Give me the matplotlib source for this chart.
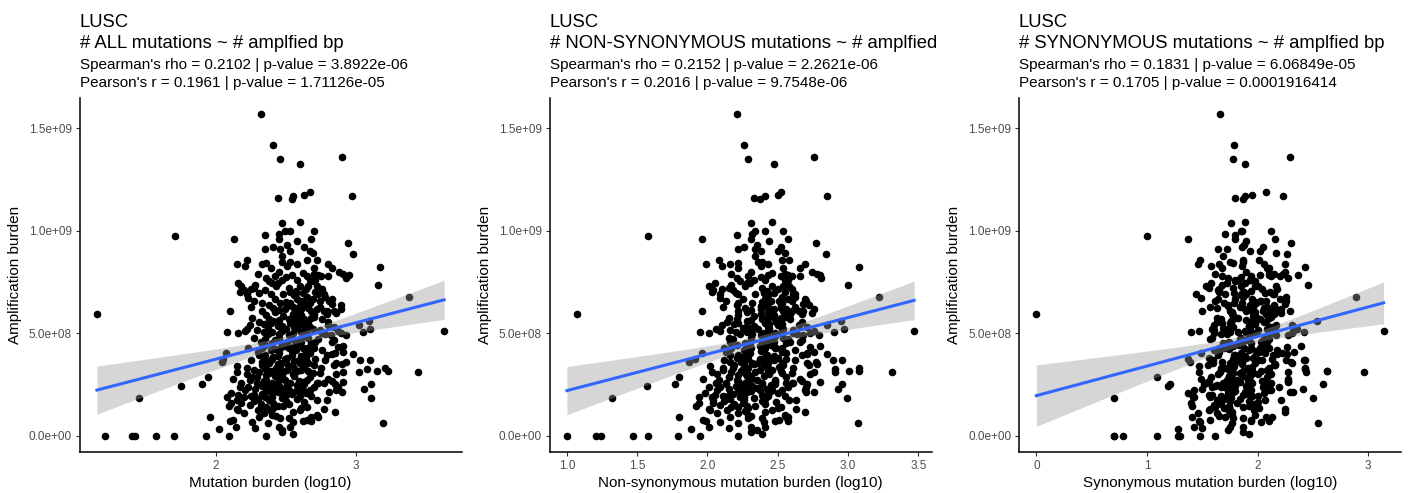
import numpy as np
import matplotlib
matplotlib.use("Agg")
import matplotlib.pyplot as plt

plt.rcParams['font.family'] = ['Liberation Sans', 'DejaVu Sans']

# amplified bp per LUSC sample, in units of 1e8 bp
amp_1e8 = [
    15.7, 14.2, 13.5, 13.25, 13.6, 11.6, 11.55, 11.7, 11.75, 11.9,
    11.7, 10.4, 10.45, 9.74, 9.6, 9.82, 9.85, 10.0, 10.0, 10.0,
    9.6, 9.6, 9.4, 8.85, 9.1, 9.2, 9.1, 9.3, 9.5, 9.2,
    9.0, 8.9, 8.8, 9.0, 8.26, 8.4, 8.6, 8.3, 8.4, 8.45,
    8.3, 8.4, 8.6, 8.2, 8.6, 8.4, 8.2, 8.0, 7.9, 7.85,
    7.7, 7.35, 8.5, 8.5, 8.2, 8.0, 7.8, 7.7, 7.45, 7.3,
    7.6, 7.85, 7.6, 7.3, 7.8, 7.9, 7.6, 7.85, 7.8, 7.45,
    7.3, 7.0, 6.9, 7.15, 7.2, 7.1, 6.75, 6.5, 6.9, 6.9,
    7.0, 6.6, 6.8, 7.0, 6.6, 6.6, 6.4, 6.7, 6.2, 6.45,
    6.0, 6.77, 6.08, 5.94, 5.4, 5.6, 5.2, 5.05, 5.1, 5.0,
    4.9, 4.4, 4.7, 4.35, 4.0, 3.55, 3.5, 3.6, 3.7, 3.1,
    3.25, 3.15, 3.3, 3.15, 3.1, 2.7, 2.55, 2.65, 2.4, 2.15,
    2.3, 2.55, 1.85, 1.17, 0.62, 5.1, 4.6, 4.05, 5.3, 4.1,
    4.0, 3.7, 3.06, 2.57, 2.57, 2.24, 3.0, 3.1, 3.46, 1.75,
    1.75, 2.16, 2.24, 3.7, 5.06, 5.0, 5.1, 5.2, 3.75, 4.05,
    3.6, 2.86, 2.52, 2.44, 1.84, 0.9, 0.35, 0.75, 1.45, 1.3,
    0, 0, 0, 0, 0, 0, 0, 0, 3.4, 3.0,
    2.6, 2.75, 2.25, 2.0, 1.6, 1.6, 2.1, 2.8, 3.1, 2.4,
    1.9, 1.75, 1.9, 1.27, 0.45, 0.78, 0.3, 0.08, 0.73, 0.73,
    0.94, 1.32, 1.43, 0.94, 1.1, 1.27, 1.43, 1.02, 0.86, 0.45,
    0.86, 0.7, 0.45, 0.2, 0.78, 0.94, 1.02, 1.27,
    7.9, 7.55, 7.75, 7.95, 7.6, 7.35, 7.1, 7.45, 7.2, 7.05,
    7.3, 7.15, 6.6, 6.95, 6.7, 6.5, 6.85, 6.95, 6.7, 6.9,
    6.3, 6.1, 6.4, 6.15, 6.35, 6.05, 6.4, 6.2, 6.1, 5.75,
    5.55, 5.9, 5.6, 5.85, 5.5, 5.8, 5.6, 5.95, 5.7, 5.4,
    5.15, 5.45, 5.05, 5.35, 5.2, 5.45, 5.05, 5.3, 5.15, 5.4,
    4.8, 4.6, 4.95, 4.7, 4.55, 4.9, 4.65, 4.85, 4.55, 4.75,
    4.95, 4.3, 4.1, 4.45, 4.2, 4.05, 4.4, 4.15, 4.45, 4.1,
    4.3, 4.2, 3.7, 3.95, 3.6, 3.85, 3.55, 3.8, 3.65, 3.9,
    3.55, 3.75, 3.95, 3.2, 3.45, 3.05, 3.3, 3.1, 3.4, 3.15,
    3.35, 3.05, 3.3, 2.85, 2.55, 2.95, 2.6, 2.8, 2.55, 2.9,
    2.65, 2.85, 2.6, 2.8, 2.3, 2.05, 2.4, 2.15, 2.35, 2.05,
    2.3, 2.1, 2.4, 1.7, 1.9, 1.6, 1.85, 1.55, 1.8, 1.65,
    1.95, 1.4, 1.2, 1.45, 1.15, 1.35, 5.7, 5.65, 5.75, 5.7,
    5.25, 5.1, 5.25, 5.15, 4.75, 4.8, 4.75, 4.7, 4.8, 4.3,
    4.25, 4.3, 4.2, 4.3, 3.8, 3.7, 3.75, 3.7, 3.8, 3.25,
    3.3, 3.2, 3.3, 3.2, 2.7, 2.65, 2.75, 2.7, 2.75, 2.2,
    2.3, 2.25, 2.2, 2.25, 6.25, 6.2, 6.3, 6.2,
    1.1, 1.5, 2.0, 2.6, 3.1, 3.3, 0.7, 1.8, 2.45, 2.75,
    1.75, 2.1, 2.9, 3.5, 3.6, 2.4, 0.4, 0.65, 1.35, 2.45,
    1.45, 2.0, 3.3, 1.95, 1.55, 3.15, 0.95, 2.9, 2.85, 3.75,
    4.55, 5.0, 5.45, 5.8, 6.3, 6.8, 6.1, 6.6, 6.95, 7.3,
    5.55, 5.0, 4.6, 4.3, 4.9, 5.55, 5.95, 7.15, 7.55, 7.8,
    6.5, 6.3, 6.5, 6.9, 6.1, 5.9, 5.3, 5.2, 5.95, 6.1,
    2.5, 2.45, 2.2, 2.6, 2.5, 2.55, 3.55, 3.05, 3.55, 3.0,
    3.55, 3.15, 4.55, 4.3, 4.6, 4.4, 4.6, 4.05, 5.5, 5.35,
    5.7, 5.5, 5.4, 5.75, 6.05, 6.55, 6.7, 6.25, 3.95, 3.9,
    3.95, 3.7, 1.9, 1.7, 1.95, 5.05, 4.95, 5.0, 4.95, 3.45,
]

# log10 mutation counts, same sample order
mut_all = [
    2.32, 2.41, 2.46, 2.60, 2.90, 2.44, 2.54, 2.55, 2.63, 2.67,
    2.97, 2.47, 2.60, 1.71, 2.13, 2.35, 2.45, 2.49, 2.53, 2.70,
    2.45, 2.68, 2.94, 2.98, 2.35, 2.41, 2.46, 2.51, 2.58, 2.63,
    2.67, 2.69, 2.47, 2.53, 3.17, 2.15, 2.22, 2.21, 2.33, 2.36,
    2.51, 2.58, 2.65, 2.70, 2.72, 2.80, 2.83, 2.88, 2.91, 2.95,
    2.93, 3.16, 2.53, 2.47, 2.39, 2.45, 2.42, 2.36, 2.40, 2.43,
    2.47, 2.54, 2.58, 2.60, 2.65, 2.70, 2.67, 2.73, 2.80, 2.16,
    2.18, 2.17, 2.22, 2.25, 2.27, 2.20, 2.23, 2.33, 2.39, 2.48,
    2.53, 2.60, 2.65, 2.71, 2.74, 2.81, 2.89, 2.83, 2.89, 2.83,
    2.86, 3.38, 2.10, 1.15, 3.02, 3.09, 3.10, 3.05, 3.63, 2.89,
    2.93, 2.91, 2.84, 2.87, 2.98, 2.86, 2.90, 2.93, 3.10, 3.02,
    3.08, 3.15, 3.21, 3.23, 3.44, 2.83, 2.85, 2.91, 2.87, 2.90,
    3.06, 3.11, 3.11, 2.85, 3.19, 2.87, 2.83, 2.85, 2.84, 2.91,
    2.83, 2.78, 2.74, 2.72, 2.77, 2.67, 2.86, 2.91, 2.84, 2.79,
    2.72, 2.81, 2.86, 3.03, 2.08, 2.16, 2.21, 2.22, 2.05, 2.07,
    2.04, 1.94, 1.90, 1.75, 1.45, 1.96, 2.02, 2.10, 2.09, 2.15,
    1.21, 1.40, 1.42, 1.57, 1.70, 1.93, 2.09, 2.36, 2.15, 2.22,
    2.18, 2.24, 2.21, 2.16, 2.11, 2.18, 2.11, 2.12, 2.15, 2.17,
    2.08, 2.15, 2.20, 2.16, 2.14, 2.12, 2.47, 2.55, 2.62, 2.68,
    2.73, 2.77, 2.65, 2.31, 2.34, 2.30, 2.36, 2.40, 2.46, 2.45,
    2.52, 2.55, 2.53, 2.47, 2.65, 2.68, 2.72, 2.60,
    2.30, 2.38, 2.50, 2.62, 2.71, 2.28, 2.35, 2.44, 2.52, 2.57,
    2.66, 2.76, 2.27, 2.31, 2.42, 2.46, 2.56, 2.62, 2.69, 2.77,
    2.25, 2.33, 2.38, 2.45, 2.51, 2.58, 2.64, 2.72, 2.79, 2.26,
    2.31, 2.36, 2.41, 2.48, 2.53, 2.59, 2.66, 2.70, 2.76, 2.24,
    2.29, 2.34, 2.40, 2.44, 2.50, 2.55, 2.61, 2.67, 2.74, 2.80,
    2.27, 2.32, 2.37, 2.42, 2.47, 2.52, 2.57, 2.63, 2.68, 2.73,
    2.78, 2.23, 2.30, 2.35, 2.39, 2.45, 2.49, 2.54, 2.59, 2.64,
    2.70, 2.76, 2.25, 2.31, 2.36, 2.41, 2.46, 2.51, 2.56, 2.61,
    2.66, 2.71, 2.79, 2.27, 2.33, 2.38, 2.43, 2.48, 2.53, 2.58,
    2.63, 2.69, 2.75, 2.26, 2.30, 2.36, 2.40, 2.46, 2.51, 2.56,
    2.62, 2.67, 2.73, 2.80, 2.28, 2.33, 2.38, 2.44, 2.49, 2.54,
    2.59, 2.64, 2.70, 2.27, 2.35, 2.41, 2.47, 2.52, 2.58, 2.63,
    2.68, 2.32, 2.39, 2.44, 2.55, 2.61, 2.38, 2.45, 2.56, 2.63,
    2.37, 2.47, 2.58, 2.64, 2.35, 2.45, 2.55, 2.60, 2.66, 2.33,
    2.42, 2.52, 2.57, 2.62, 2.34, 2.39, 2.49, 2.59, 2.64, 2.36,
    2.46, 2.51, 2.56, 2.61, 2.34, 2.44, 2.49, 2.59, 2.65, 2.36,
    2.42, 2.52, 2.57, 2.62, 2.41, 2.49, 2.55, 2.61,
    2.20, 2.24, 2.27, 2.29, 2.31, 2.22, 2.26, 2.30, 2.33, 2.36,
    2.38, 2.40, 2.42, 2.44, 2.33, 2.23, 2.28, 2.37, 2.41, 2.45,
    2.48, 2.50, 2.35, 2.25, 2.32, 2.39, 2.43, 2.47, 2.29, 2.40,
    2.58, 2.62, 2.66, 2.70, 2.74, 2.78, 2.68, 2.62, 2.57, 2.72,
    2.80, 2.76, 2.71, 2.65, 2.82, 2.60, 2.55, 2.64, 2.69, 2.75,
    2.53, 2.59, 2.67, 2.73, 2.77, 2.61, 2.56, 2.69, 2.79, 2.84,
    2.37, 2.43, 2.48, 2.53, 2.58, 2.63, 2.38, 2.44, 2.50, 2.55,
    2.60, 2.66, 2.40, 2.46, 2.51, 2.56, 2.61, 2.67, 2.39, 2.47,
    2.52, 2.57, 2.62, 2.68, 2.42, 2.50, 2.58, 2.66, 2.35, 2.44,
    2.54, 2.63, 2.40, 2.50, 2.60, 2.34, 2.45, 2.55, 2.65, 2.70,
]

mut_nonsyn = [
    2.21, 2.26, 2.29, 2.47, 2.76, 2.33, 2.37, 2.41, 2.50, 2.52,
    2.85, 2.31, 2.46, 1.58, 1.96, 2.21, 2.32, 2.34, 2.41, 2.54,
    2.31, 2.57, 2.77, 2.84, 2.22, 2.26, 2.34, 2.35, 2.44, 2.52,
    2.50, 2.55, 2.34, 2.38, 3.08, 1.99, 2.08, 2.10, 2.16, 2.22,
    2.38, 2.43, 2.53, 2.54, 2.58, 2.69, 2.66, 2.74, 2.78, 2.80,
    2.81, 3.00, 2.39, 2.36, 2.22, 2.31, 2.29, 2.21, 2.28, 2.27,
    2.33, 2.43, 2.41, 2.46, 2.52, 2.55, 2.55, 2.57, 2.66, 2.05,
    2.01, 2.03, 2.09, 2.10, 2.15, 2.04, 2.09, 2.22, 2.22, 2.34,
    2.40, 2.45, 2.53, 2.55, 2.60, 2.70, 2.72, 2.69, 2.76, 2.68,
    2.74, 3.22, 1.96, 1.07, 2.85, 2.95, 2.97, 2.90, 3.47, 2.73,
    2.79, 2.80, 2.67, 2.73, 2.85, 2.71, 2.78, 2.77, 2.96, 2.91,
    2.91, 3.01, 3.08, 3.08, 3.31, 2.67, 2.71, 2.80, 2.70, 2.76,
    2.93, 2.96, 2.99, 2.69, 3.07, 2.76, 2.66, 2.71, 2.71, 2.76,
    2.71, 2.62, 2.60, 2.61, 2.60, 2.53, 2.73, 2.76, 2.72, 2.63,
    2.58, 2.70, 2.69, 2.89, 1.95, 2.01, 2.09, 2.06, 1.91, 1.96,
    1.87, 1.80, 1.77, 1.57, 1.32, 1.80, 1.88, 1.99, 1.92, 2.01,
    1.00, 1.21, 1.24, 1.47, 1.58, 1.79, 1.95, 2.22, 2.02, 2.07,
    2.06, 2.08, 2.07, 2.05, 1.94, 2.04, 1.98, 1.97, 2.03, 2.01,
    1.94, 2.04, 2.03, 2.02, 2.01, 1.97, 2.35, 2.39, 2.48, 2.57,
    2.56, 2.63, 2.52, 2.16, 2.22, 2.14, 2.22, 2.29, 2.29, 2.31,
    2.39, 2.40, 2.41, 2.31, 2.51, 2.57, 2.55, 2.46,
    2.17, 2.23, 2.38, 2.46, 2.57, 2.17, 2.18, 2.30, 2.39, 2.42,
    2.54, 2.60, 2.13, 2.20, 2.25, 2.32, 2.43, 2.47, 2.57, 2.61,
    2.11, 2.22, 2.21, 2.31, 2.38, 2.43, 2.52, 2.56, 2.65, 2.15,
    2.14, 2.22, 2.28, 2.33, 2.41, 2.43, 2.52, 2.59, 2.59, 2.10,
    2.16, 2.19, 2.28, 2.28, 2.36, 2.44, 2.44, 2.53, 2.61, 2.65,
    2.15, 2.16, 2.23, 2.31, 2.30, 2.38, 2.44, 2.48, 2.56, 2.57,
    2.64, 2.12, 2.13, 2.21, 2.26, 2.30, 2.37, 2.38, 2.45, 2.53,
    2.53, 2.62, 2.12, 2.16, 2.24, 2.25, 2.32, 2.40, 2.39, 2.47,
    2.53, 2.56, 2.67, 2.11, 2.19, 2.27, 2.26, 2.34, 2.40, 2.43,
    2.51, 2.53, 2.61, 2.15, 2.13, 2.22, 2.27, 2.31, 2.39, 2.40,
    2.48, 2.56, 2.56, 2.66, 2.15, 2.18, 2.26, 2.28, 2.35, 2.43,
    2.42, 2.50, 2.57, 2.12, 2.23, 2.25, 2.33, 2.41, 2.41, 2.49,
    2.55, 2.17, 2.27, 2.28, 2.41, 2.50, 2.21, 2.31, 2.43, 2.48,
    2.25, 2.31, 2.44, 2.53, 2.18, 2.31, 2.42, 2.45, 2.54, 2.17,
    2.28, 2.41, 2.40, 2.48, 2.21, 2.24, 2.37, 2.43, 2.50, 2.25,
    2.29, 2.37, 2.43, 2.46, 2.22, 2.28, 2.35, 2.48, 2.48, 2.22,
    2.29, 2.37, 2.45, 2.46, 2.27, 2.38, 2.38, 2.47,
    2.07, 2.09, 2.15, 2.13, 2.17, 2.11, 2.09, 2.16, 2.20, 2.21,
    2.26, 2.24, 2.28, 2.33, 2.16, 2.09, 2.15, 2.22, 2.29, 2.29,
    2.34, 2.39, 2.18, 2.11, 2.19, 2.24, 2.31, 2.31, 2.15, 2.29,
    2.41, 2.48, 2.53, 2.55, 2.62, 2.62, 2.54, 2.51, 2.40, 2.58,
    2.67, 2.61, 2.59, 2.49, 2.68, 2.49, 2.38, 2.50, 2.56, 2.60,
    2.41, 2.43, 2.53, 2.62, 2.60, 2.47, 2.43, 2.54, 2.67, 2.68,
    2.23, 2.32, 2.31, 2.39, 2.45, 2.48, 2.26, 2.28, 2.36, 2.44,
    2.43, 2.52, 2.27, 2.31, 2.39, 2.40, 2.47, 2.56, 2.22, 2.33,
    2.39, 2.42, 2.50, 2.52, 2.28, 2.39, 2.41, 2.52, 2.22, 2.29,
    2.42, 2.47, 2.26, 2.39, 2.43, 2.20, 2.32, 2.40, 2.53, 2.54,
]

mut_syn = [
    1.66, 1.79, 1.78, 1.89, 2.29, 1.80, 1.87, 1.89, 1.95, 2.08,
    2.23, 1.76, 1.89, 1.00, 1.37, 1.80, 1.71, 1.86, 1.85, 2.12,
    1.80, 2.16, 2.30, 2.27, 1.64, 1.86, 1.72, 1.88, 1.90, 2.05,
    2.02, 2.17, 1.69, 1.93, 2.43, 1.46, 1.48, 1.58, 1.65, 1.78,
    1.86, 2.06, 1.87, 2.10, 2.01, 2.25, 2.09, 2.25, 2.23, 2.37,
    2.28, 2.46, 1.75, 1.87, 1.68, 1.90, 1.68, 1.73, 1.72, 1.85,
    1.82, 2.02, 1.80, 2.00, 1.94, 2.15, 1.93, 2.10, 2.12, 1.58,
    1.53, 1.65, 1.44, 1.65, 1.56, 1.65, 1.49, 1.70, 1.71, 1.90,
    1.88, 2.08, 1.87, 2.11, 2.03, 2.26, 2.15, 2.20, 2.21, 2.25,
    2.21, 2.89, 1.50, 0.00, 2.31, 2.54, 2.36, 2.42, 3.14, 2.31,
    2.28, 2.39, 2.06, 2.27, 2.27, 2.31, 2.16, 2.30, 2.42, 2.44,
    2.43, 2.63, 2.43, 2.63, 2.96, 2.28, 2.11, 2.28, 2.19, 2.32,
    2.41, 2.59, 2.50, 2.25, 2.55, 2.32, 2.09, 2.22, 2.16, 2.33,
    2.18, 2.26, 1.96, 2.12, 2.06, 2.12, 2.12, 2.28, 2.16, 2.21,
    2.07, 2.29, 2.08, 2.43, 1.40, 1.61, 1.47, 1.59, 1.37, 1.49,
    1.39, 1.09, 1.21, 1.19, 0.70, 1.41, 1.28, 1.47, 1.41, 1.57,
    0.70, 0.70, 0.78, 1.09, 1.28, 1.30, 1.48, 1.62, 1.47, 1.64,
    1.53, 1.72, 1.43, 1.56, 1.40, 1.63, 1.37, 1.49, 1.47, 1.59,
    1.43, 1.63, 1.42, 1.56, 1.43, 1.57, 1.73, 1.92, 1.94, 2.10,
    2.08, 2.25, 1.87, 1.71, 1.63, 1.75, 1.62, 1.77, 1.78, 1.87,
    1.87, 2.03, 1.75, 1.87, 1.94, 2.13, 1.98, 1.97,
    1.62, 1.80, 1.85, 2.10, 1.93, 1.68, 1.64, 1.89, 1.78, 1.94,
    1.98, 2.18, 1.62, 1.79, 1.64, 1.86, 1.85, 2.07, 1.95, 2.14,
    1.57, 1.75, 1.73, 1.93, 1.73, 1.98, 1.93, 2.17, 2.05, 1.63,
    1.63, 1.78, 1.76, 1.96, 1.75, 1.99, 1.95, 2.15, 2.02, 1.61,
    1.61, 1.76, 1.75, 1.92, 1.72, 1.95, 1.90, 2.12, 2.00, 2.17,
    1.59, 1.74, 1.72, 1.90, 1.69, 1.92, 1.86, 2.08, 1.94, 2.10,
    2.10, 1.65, 1.65, 1.83, 1.61, 1.85, 1.78, 1.99, 1.85, 2.01,
    2.02, 2.18, 1.60, 1.79, 1.58, 1.81, 1.75, 1.96, 1.82, 1.98,
    1.98, 2.13, 2.14, 1.75, 1.55, 1.78, 1.72, 1.93, 1.79, 1.95,
    1.95, 2.11, 2.10, 1.74, 1.52, 1.76, 1.69, 1.91, 1.77, 1.93,
    1.94, 2.09, 2.08, 2.28, 1.50, 1.73, 1.67, 1.89, 1.75, 1.91,
    1.91, 2.06, 2.05, 1.75, 1.57, 1.81, 1.76, 1.97, 1.84, 2.00,
    2.00, 1.74, 1.74, 1.92, 1.77, 2.01, 1.67, 1.90, 1.82, 2.00,
    1.69, 1.89, 1.93, 2.12, 1.57, 1.85, 1.84, 2.05, 1.92, 1.70,
    1.74, 1.94, 1.92, 2.10, 1.56, 1.79, 1.78, 2.04, 1.90, 1.73,
    1.78, 1.93, 1.91, 2.09, 1.56, 1.84, 1.78, 2.04, 1.91, 1.73,
    1.74, 1.94, 1.92, 2.10, 1.63, 1.89, 1.84, 2.06,
    1.46, 1.61, 1.59, 1.71, 1.66, 1.70, 1.48, 1.70, 1.62, 1.81,
    1.64, 1.77, 1.74, 1.86, 1.68, 1.71, 1.50, 1.77, 1.70, 1.90,
    1.74, 1.87, 1.67, 1.67, 1.67, 1.87, 1.65, 1.87, 1.58, 1.85,
    1.84, 1.99, 1.98, 2.12, 2.09, 2.26, 1.90, 2.02, 1.86, 2.17,
    2.06, 2.13, 2.03, 2.07, 2.17, 2.08, 1.77, 2.04, 1.98, 2.20,
    1.79, 1.96, 1.99, 2.15, 2.12, 2.09, 1.78, 2.09, 2.08, 2.29,
    1.63, 1.80, 1.80, 1.95, 1.93, 2.11, 1.60, 1.84, 1.79, 2.00,
    1.86, 2.03, 1.72, 1.88, 1.86, 2.04, 1.83, 2.07, 1.68, 1.92,
    1.78, 1.94, 1.94, 2.10, 1.77, 1.98, 1.80, 2.06, 1.64, 1.89,
    1.80, 2.00, 1.72, 1.92, 1.95, 1.82, 1.67, 1.95, 1.94, 2.15,
]

titles = ["# ALL mutations ~ # amplfied bp",
          "# NON-SYNONYMOUS mutations ~ # amplfied",
          "# SYNONYMOUS mutations ~ # amplfied bp"]
spearman = ["Spearman's rho = 0.2102 | p-value = 3.8922e-06",
            "Spearman's rho = 0.2152 | p-value = 2.2621e-06",
            "Spearman's rho = 0.1831 | p-value = 6.06849e-05"]
pearson = ["Pearson's r = 0.1961 | p-value = 1.71126e-05",
           "Pearson's r = 0.2016 | p-value = 9.7548e-06",
           "Pearson's r = 0.1705 | p-value = 0.0001916414"]
xlabels = ["Mutation burden (log10)",
           "Non-synonymous mutation burden (log10)",
           "Synonymous mutation burden (log10)"]
xticks = [[2, 3], [1.0, 1.5, 2.0, 2.5, 3.0, 3.5], [0, 1, 2, 3]]
xticklabels = [["2", "3"], ["1.0", "1.5", "2.0", "2.5", "3.0", "3.5"], ["0", "1", "2", "3"]]
yticks = [0, 5e8, 1e9, 1.5e9]
yticklabels = ["0.0e+00", "5.0e+08", "1.0e+09", "1.5e+09"]

y = np.array(amp_1e8) * 1e8
xs_all = [np.array(mut_all), np.array(mut_nonsyn), np.array(mut_syn)]


def lm_fit(x, y, n_pts=80):
    # straight-line fit with 95% confidence band, like geom_smooth(method="lm")
    n = len(x)
    slope, icept = np.polyfit(x, y, 1)
    grid = np.linspace(x.min(), x.max(), n_pts)
    fit = icept + slope * grid
    resid = y - (icept + slope * x)
    s = np.sqrt(np.sum(resid ** 2) / (n - 2))
    sxx = np.sum((x - x.mean()) ** 2)
    se = s * np.sqrt(1.0 / n + (grid - x.mean()) ** 2 / sxx)
    t = 1.966
    return grid, fit, fit - t * se, fit + t * se


def padded(lo, hi, frac=0.05):
    r = hi - lo
    return lo - frac * r, hi + frac * r


fig = plt.figure(figsize=(14.08, 4.93), dpi=100)
lefts = [0.0565, 0.3903, 0.7237]
bottom, height, width = 0.0832, 0.718, 0.2713

for i in range(3):
    x = xs_all[i]
    ax = fig.add_axes([lefts[i], bottom, width, height])
    ax.scatter(x, y, s=30, color="black", linewidths=0, zorder=2)
    gx, gy, lo, hi = lm_fit(x, y)
    ax.fill_between(gx, lo, hi, color="#999999", alpha=0.4, linewidth=0, zorder=3)
    ax.plot(gx, gy, color="#3366FF", lw=2.2, zorder=4)

    ax.set_xlim(*padded(x.min(), x.max()))
    ax.set_ylim(*padded(y.min(), y.max()))
    ax.set_xticks(xticks[i])
    ax.set_xticklabels(xticklabels[i])
    ax.set_yticks(yticks)
    ax.set_yticklabels(yticklabels)
    ax.tick_params(axis="both", labelsize=8.5, labelcolor="#4D4D4D", color="#333333",
                   length=3, width=0.8, pad=2.5)
    for side in ["top", "right"]:
        ax.spines[side].set_visible(False)
    for side in ["left", "bottom"]:
        ax.spines[side].set_linewidth(1.1)
        ax.spines[side].set_color("black")
    ax.set_xlabel(xlabels[i], fontsize=11, labelpad=3)
    ax.set_ylabel("Amplification burden", fontsize=11, labelpad=5)

    fx = lefts[i]
    fig.text(fx, 1 - 27 / 493, "LUSC", fontsize=13.3, va="baseline", ha="left")
    fig.text(fx, 1 - 48 / 493, titles[i], fontsize=13.3, va="baseline", ha="left")
    fig.text(fx, 1 - 69 / 493, spearman[i], fontsize=11, va="baseline", ha="left")
    fig.text(fx, 1 - 86.5 / 493, pearson[i], fontsize=11, va="baseline", ha="left")

fig.savefig("out.png", dpi=100)
